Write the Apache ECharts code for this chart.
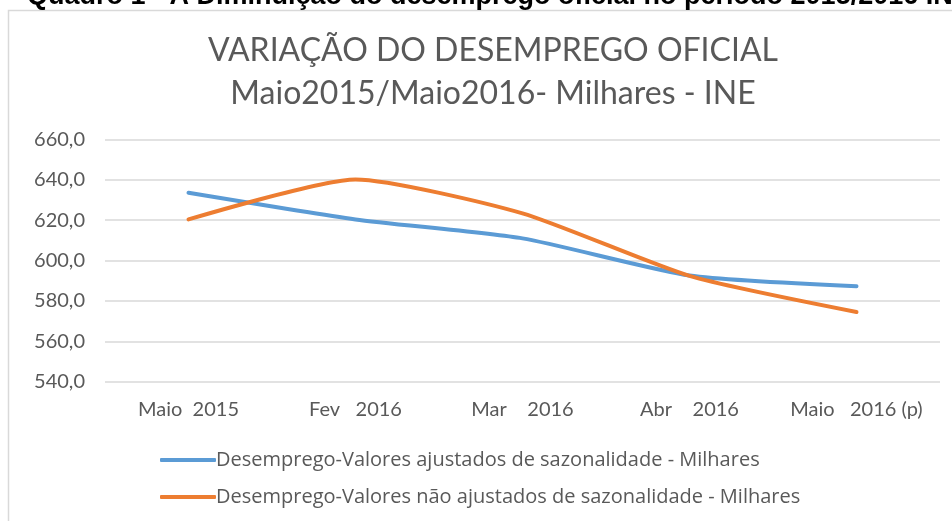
<!DOCTYPE html>
<html>
<head>
<meta charset="utf-8">
<script src="https://cdn.jsdelivr.net/npm/echarts@6/dist/echarts.min.js"></script>
<style>
  html, body { margin: 0; padding: 0; background: #fff; }
  #chart { width: 952px; height: 521px; }
</style>
</head>
<body>
<div id="chart"></div>
<script>
// categories and values
const categories = ['Maio  2015', 'Fev   2016', 'Mar    2016', 'Abr    2016', 'Maio   2016 (p)'];
const ajustados = [633.6, 620.4, 611.0, 592.6, 587.3];
const naoAjustados = [620.4, 640.2, 623.4, 592.4, 574.5];
const seriesNames = [
  'Desemprego-Valores ajustados de sazonalidade - Milhares',
  'Desemprego-Valores não ajustados de sazonalidade - Milhares'
];

const chart = echarts.init(document.getElementById('chart'));
const grey = '#595959';
const font = 'Lato, "Open Sans", sans-serif';

const option = {
  backgroundColor: '#fff',
  animation: false,
  title: {
    text: 'VARIAÇÃO DO DESEMPREGO OFICIAL\nMaio2015/Maio2016- Milhares - INE',
    left: 488,
    textAlign: 'center',
    top: 24,
    textStyle: { color: grey, fontFamily: font, fontWeight: 'normal', fontSize: 32, lineHeight: 43 }
  },
  graphic: [
    {
      type: 'rect',
      shape: { x: 8.5, y: 10.5, width: 960, height: 530 },
      style: { fill: 'none', stroke: '#d9d9d9', lineWidth: 1.5 },
      z: -1
    },
    {
      type: 'text',
      left: 27,
      top: -17,
      style: {
        text: 'Quadro 1 - A Diminuição do desemprego oficial no período 2015/2016 INE',
        fill: '#000',
        font: 'bold 27px "Liberation Sans", Arial, sans-serif'
      }
    }
  ],
  legend: {
    orient: 'vertical',
    left: 155,
    top: 445,
    itemGap: 17,
    itemWidth: 56,
    itemHeight: 4,
    icon: 'roundRect',
    textStyle: { color: grey, fontFamily: '"Open Sans", sans-serif', fontSize: 20, padding: [0, 0, 0, -5] },
    data: seriesNames
  },
  grid: { left: 105, right: 12, top: 139.5, bottom: 139.3 },
  xAxis: {
    type: 'category',
    data: categories,
    boundaryGap: true,
    axisLine: { show: false },
    axisTick: { show: false },
    axisLabel: { color: grey, fontFamily: font, fontSize: 20, margin: 18, interval: 0, hideOverlap: false }
  },
  yAxis: {
    type: 'value',
    min: 540,
    max: 660,
    interval: 20,
    axisLine: { show: false },
    axisTick: { show: false },
    axisLabel: {
      color: grey, fontFamily: font, fontSize: 20, margin: 20,
      formatter: v => v.toFixed(1).replace('.', ',')
    },
    splitLine: { lineStyle: { color: '#d9d9d9', width: 1.5 } }
  },
  series: [
    {
      name: seriesNames[0],
      type: 'line',
      data: ajustados,
      smooth: 0.2,
      symbol: 'none',
      lineStyle: { color: '#5b9bd5', width: 4, cap: 'round' },
      itemStyle: { color: '#5b9bd5' }
    },
    {
      name: seriesNames[1],
      type: 'line',
      data: naoAjustados,
      smooth: 0.2,
      symbol: 'none',
      lineStyle: { color: '#ed7d31', width: 4, cap: 'round' },
      itemStyle: { color: '#ed7d31' }
    }
  ]
};

chart.setOption(option);
</script>
</body>
</html>
